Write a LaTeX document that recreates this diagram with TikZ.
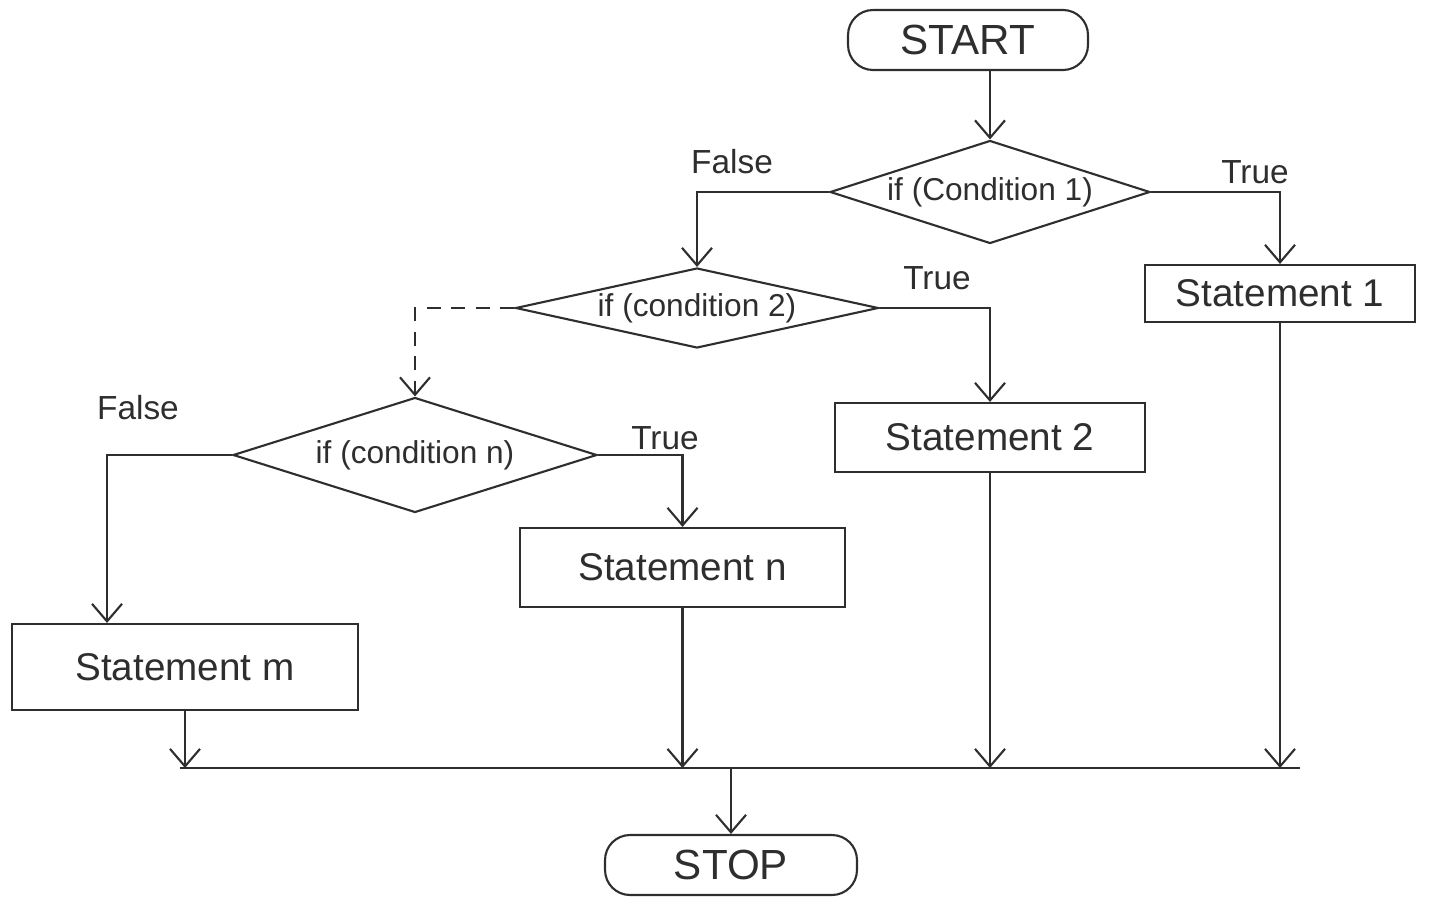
\documentclass[tikz,border=0pt]{standalone}
\usepackage{fontspec}
\setmainfont{Liberation Sans}
\usetikzlibrary{shapes.geometric,arrows.meta,calc}
\definecolor{ink}{HTML}{2E2E2E}
\begin{document}
\begin{tikzpicture}[x=0.02cm,y=-0.02cm,
  color=ink, line width=1.2pt,
  >={Straight Barb[length=3.5mm,width=6mm]},
  term/.style={draw, rounded corners=0.5cm, inner sep=0pt, font=\fontsize{24}{28}\selectfont},
  stmt/.style={draw, inner sep=0pt, font=\fontsize{22}{26}\selectfont},
  cond/.style={draw, diamond, inner sep=0pt, font=\fontsize{18}{22}\selectfont},
  lbl/.style={font=\fontsize{19}{23}\selectfont},
  flow/.style={->}]
\useasboundingbox (0,0) rectangle (1429,899);

% terminals
\node[term, minimum width=4.8cm, minimum height=1.2cm] (start) at (968,40) {START};
\node[term, minimum width=5.04cm, minimum height=1.2cm] (stop) at (731,865) {STOP};

% decisions
\node[cond, aspect=3.1, minimum width=6.4cm, minimum height=2.06cm] (c1) at (990,192) {if (Condition 1)};
\node[cond, aspect=4.6, minimum width=7.26cm, minimum height=1.6cm] (c2) at (697,308) {if (condition 2)};
\node[cond, aspect=3.2, minimum width=7.28cm, minimum height=2.3cm] (c3) at (415,455) {if (condition n)};

% statements
\node[stmt, minimum width=5.4cm, minimum height=1.14cm] (s1) at (1280,293.5) {Statement 1};
\node[stmt, minimum width=6.2cm, minimum height=1.38cm] (s2) at (990,437.5) {Statement 2};
\node[stmt, minimum width=6.5cm, minimum height=1.58cm] (sn) at (682.5,567.5) {Statement n};
\node[stmt, minimum width=6.92cm, minimum height=1.72cm] (sm) at (185,667) {Statement m};

% branch labels
\node[lbl] (f1) at (732,162) {False};
\node[lbl] (t1) at (1255,172) {True};
\node[lbl] (t2) at (937,278) {True};
\node[lbl] (f3) at (138,408) {False};
\node[lbl] (t3) at (665,438) {True};

% collecting line above STOP
\coordinate (busL) at (180,768);
\coordinate (busR) at (1300,768);

% connectors
\draw[flow] (start.south -| c1.north) -- (c1.north);
\draw[flow] (c1.west) -| (c2.north);
\draw[flow] (c1.east) -| (s1.north);
\draw[flow, dashed, dash pattern=on 8pt off 6pt] (c2.west) -| (c3.north);
\draw[flow] (c2.east) -| (s2.north);
\draw[flow] (c3.west) -| ([xshift=-1.56cm]sm.north);
\draw[flow] (c3.east) -| (sn.north);

\draw (busL) -- (busR);
\draw[flow] (sm.south) -- (sm.south |- busL);
\draw[flow] (sn.south) -- (sn.south |- busL);
\draw[flow] (s2.south) -- (s2.south |- busL);
\draw[flow] (s1.south) -- (s1.south |- busL);
\draw[flow] (stop.north |- busL) -- (stop.north);
\end{tikzpicture}
\end{document}
